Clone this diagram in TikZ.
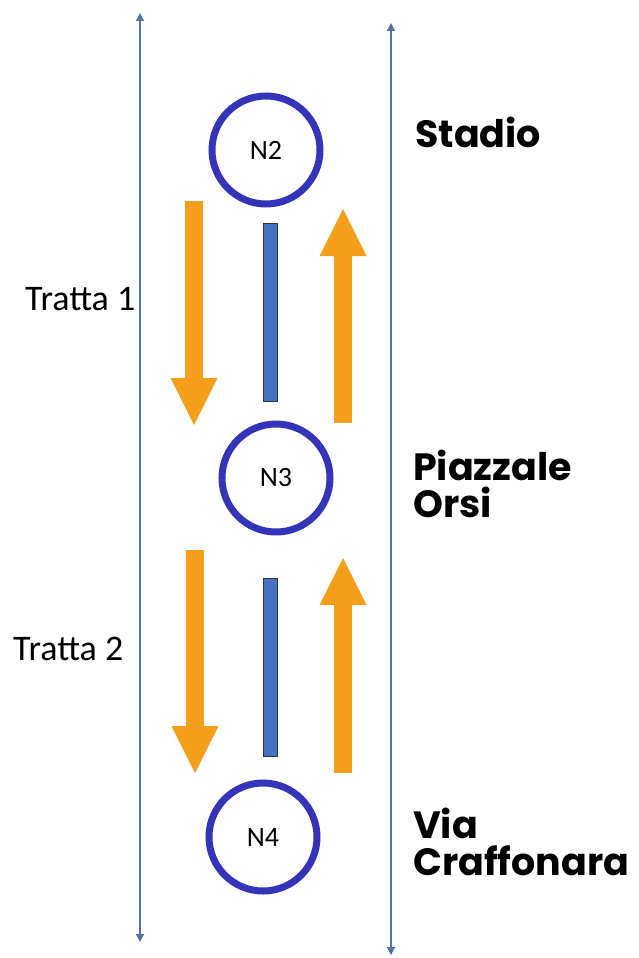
\documentclass[tikz,border=0pt]{standalone}
\usepackage{fontspec}
\setmainfont{Carlito}
\newfontfamily\stopfont{Poppins}
\usetikzlibrary{arrows.meta}

\definecolor{guideblue}{RGB}{79,116,168}
\definecolor{ringblue}{RGB}{52,52,184}
\definecolor{trackblue}{RGB}{68,114,196}
\definecolor{floworange}{RGB}{245,158,27}

\tikzset{
  guide/.style={guideblue, line width=1.3pt,
    {Triangle[width=8pt,length=8pt]}-{Triangle[width=8pt,length=8pt]}},
  stopnode/.style={circle, draw=ringblue, line width=7pt, minimum size=108pt,
    inner sep=0pt, font=\fontsize{28}{32}\selectfont},
  track/.style={draw=black!80, fill=trackblue, line width=1pt, minimum width=14pt,
    minimum height=178pt, inner sep=0pt},
  flow/.style={floworange, line width=18pt,
    -{Triangle[width=47pt,length=47pt,line width=0pt]}},
  placename/.style={anchor=base west, inner sep=0pt, align=left,
    font=\stopfont\bfseries\fontsize{38}{37}\selectfont},
  tratta/.style={anchor=base west, inner sep=0pt, font=\fontsize{36}{40}\selectfont}
}

\begin{document}
\begin{tikzpicture}[x=1pt,y=-1pt]
        \useasboundingbox (0,0) rectangle (638,958);
        \draw [guide] (140,942) -- (140,13);
        \draw [guide] (391,955) -- (391,23);
        \node (n2) [stopnode] at (266,150) {N2};
        \node (n3) [stopnode] at (276,478) {N3};
        \node (n4) [stopnode] at (263,837) {N4};
        \node (bar1) [track] at (270,312) {};
        \node (bar2) [track] at (270,667) {};
        \draw [flow] (194,201) -- (194,425);
        \draw [flow] (343,423) -- (343,209);
        \draw [flow] (195,550) -- (195,773);
        \draw [flow] (343,773) -- (343,558);
        \node (t1) [tratta] at (25,310) {Tratta 1};
        \node (t2) [tratta] at (13,660) {Tratta 2};
        \node (stadio) [placename] at (415,147) {Stadio};
        \node (orsi) [placename] at (413,517) {Piazzale\\Orsi};
        \node (craff) [placename] at (413,875) {Via\\Craffonara};
   \end{tikzpicture}
\end{document}
